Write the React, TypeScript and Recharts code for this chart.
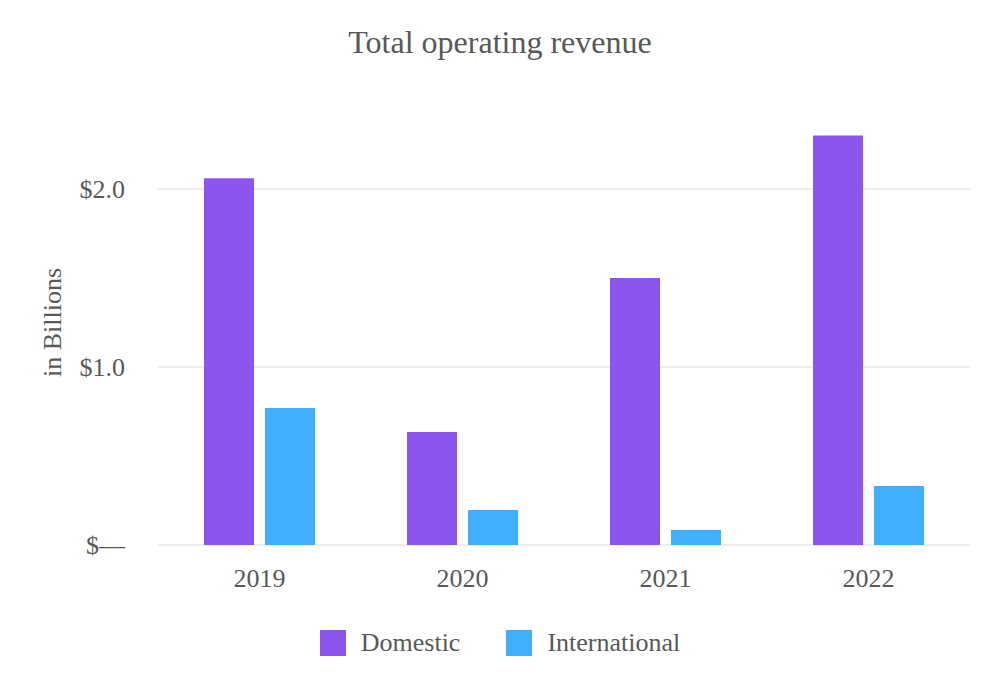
import { BarChart, Bar, XAxis, YAxis, CartesianGrid, Legend, Label } from "recharts";

const years = ["2019", "2020", "2021", "2022"];
const domestic = [2.06, 0.635, 1.5, 2.3];
const international = [0.77, 0.197, 0.084, 0.331];
const yTicks = [0, 1, 2];

const data = years.map((year, i) => ({
  year,
  Domestic: domestic[i],
  International: international[i],
}));

const FONT = "'Liberation Serif', 'Times New Roman', serif";
const TEXT = "#595959";
const PURPLE = "#8C55EE";
const BLUE = "#40AFFF";

function LegendBox() {
  const items = [
    { name: "Domestic", color: PURPLE },
    { name: "International", color: BLUE },
  ];
  return (
    <div style={{ display: "flex", justifyContent: "center", alignItems: "center", gap: 46 }}>
      {items.map((it) => (
        <div key={it.name} style={{ display: "flex", alignItems: "center" }}>
          <span style={{ width: 26, height: 26, background: it.color, display: "inline-block", marginRight: 15 }} />
          <span style={{ fontFamily: FONT, fontSize: 26, color: TEXT }}>{it.name}</span>
        </div>
      ))}
    </div>
  );
}

export default function App() {
  return (
    <div style={{ position: "absolute", left: 0, top: 0, width: 1000, height: 700, background: "#fff" }}>
      <div
        style={{
          position: "absolute",
          top: 22,
          left: 0,
          width: 1000,
          textAlign: "center",
          fontFamily: FONT,
          fontSize: 32,
          color: TEXT,
          lineHeight: "40px",
        }}
      >
        Total operating revenue
      </div>
      <BarChart
        width={1000}
        height={700}
        data={data}
        margin={{ top: 100, right: 30, bottom: 125, left: 0 }}
        barSize={50}
        barGap={11}
      >
        <CartesianGrid
          vertical={false}
          horizontalValues={yTicks}
          stroke="#e8e8e8"
          strokeWidth={1.5}
        />
        <XAxis
          dataKey="year"
          axisLine={false}
          tickLine={false}
          height={30}
          tickMargin={18}
          tick={{ fontFamily: FONT, fontSize: 26, fill: TEXT }}
        />
        <YAxis
          width={158}
          domain={[0, 2.5]}
          ticks={yTicks}
          axisLine={false}
          tickLine={false}
          tickSize={0}
          tickMargin={33}
          tickFormatter={(v: number) => (v === 0 ? "$\u2014" : `$${v.toFixed(1)}`)}
          tick={{ fontFamily: FONT, fontSize: 26, fill: TEXT }}
        >
          <Label
            content={(props: any) => {
              const vb = props.viewBox || {};
              const cx = 52;
              const cy = (vb.y ?? 100) + (vb.height ?? 445) / 2;
              return (
                <text
                  x={cx}
                  y={cy}
                  transform={`rotate(-90, ${cx}, ${cy})`}
                  textAnchor="middle"
                  dominantBaseline="central"
                  fontFamily={FONT}
                  fontSize={26}
                  fill={TEXT}
                >
                  in Billions
                </text>
              );
            }}
          />
        </YAxis>
        <Legend
          verticalAlign="middle"
          content={() => <LegendBox />}
          wrapperStyle={{ position: "absolute", top: 628, left: 0, width: 1000 }}
        />
        <Bar dataKey="Domestic" fill={PURPLE} isAnimationActive={false} />
        <Bar dataKey="International" fill={BLUE} isAnimationActive={false} />
      </BarChart>
    </div>
  );
}
